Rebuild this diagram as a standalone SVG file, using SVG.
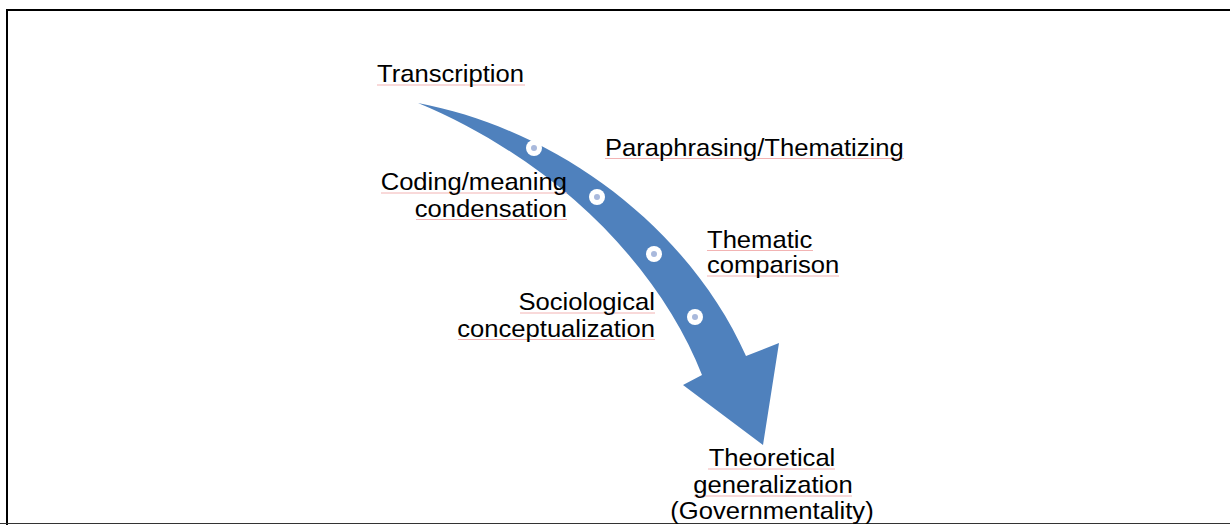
<svg xmlns="http://www.w3.org/2000/svg" width="1230" height="525" viewBox="0 0 1230 525">
<style>
.lbl{font-family:"Liberation Sans",Arial,sans-serif;font-size:24px;fill:#000;}
.ul{stroke:#f2b3b3;stroke-width:1;fill:none;}
.dot-ring{fill:#fff;}
.dot-core{fill:#a9b9dc;}
</style>
<rect x="0" y="0" width="1230" height="525" fill="#fff"/>
<g id="frame">
<line x1="6" y1="10" x2="1230" y2="10" stroke="#000" stroke-width="2"/>
<line x1="7" y1="9" x2="7" y2="525" stroke="#000" stroke-width="2"/>
<line x1="0" y1="523.5" x2="1230" y2="523.5" stroke="#333" stroke-width="1"/>
</g>
<g id="connectors">
<path d="M418,103 C560,130 690,230 746,356 L779,343 L763,445 L683,385 L702,375 C662,272 562,163 418,103 Z" fill="#4f81bd"/>
<g id="bullets">
<circle class="dot-ring" cx="534" cy="148" r="8"/><circle class="dot-core" cx="534" cy="148" r="3"/>
<circle class="dot-ring" cx="597" cy="197" r="8"/><circle class="dot-core" cx="597" cy="197" r="3"/>
<circle class="dot-ring" cx="654" cy="254" r="8"/><circle class="dot-core" cx="654" cy="254" r="3"/>
<circle class="dot-ring" cx="695" cy="317" r="8"/><circle class="dot-core" cx="695" cy="317" r="3"/>
</g>
</g>
<g id="node-transcription">
<line class="ul" x1="377" y1="85" x2="525" y2="85"/>
<text class="lbl" transform="translate(377,82) scale(1.067,1)">Transcription</text>
</g>
<g id="node-paraphrasing">
<line class="ul" x1="605" y1="158.5" x2="904" y2="158.5"/>
<text class="lbl" transform="translate(605,156) scale(1.067,1)">Paraphrasing/Thematizing</text>
</g>
<g id="node-coding">
<line class="ul" x1="381" y1="193" x2="567" y2="193"/>
<line class="ul" x1="416" y1="219.5" x2="567" y2="219.5"/>
<text class="lbl" text-anchor="end" transform="translate(567,190) scale(1.067,1)">Coding/meaning</text>
<text class="lbl" text-anchor="end" transform="translate(567,216.5) scale(1.067,1)">condensation</text>
</g>
<g id="node-thematic">
<line class="ul" x1="707" y1="250.5" x2="813" y2="250.5"/>
<line class="ul" x1="707" y1="276" x2="839" y2="276"/>
<text class="lbl" transform="translate(707,247.5) scale(1.067,1)">Thematic</text>
<text class="lbl" transform="translate(707,273) scale(1.067,1)">comparison</text>
</g>
<g id="node-sociological">
<line class="ul" x1="520" y1="313" x2="655" y2="313"/>
<line class="ul" x1="458" y1="339.5" x2="655" y2="339.5"/>
<text class="lbl" text-anchor="end" transform="translate(655,310) scale(1.067,1)">Sociological</text>
<text class="lbl" text-anchor="end" transform="translate(655,336.5) scale(1.067,1)">conceptualization</text>
</g>
<g id="node-theoretical">
<line class="ul" x1="708" y1="469" x2="835" y2="469"/>
<line class="ul" x1="694" y1="496" x2="852" y2="496"/>
<text class="lbl" text-anchor="middle" transform="translate(772,466) scale(1.067,1)">Theoretical</text>
<text class="lbl" text-anchor="middle" transform="translate(773,492.5) scale(1.067,1)">generalization</text>
<text class="lbl" text-anchor="middle" transform="translate(772,519) scale(1.067,1)">(Governmentality)</text>
</g>
</svg>
